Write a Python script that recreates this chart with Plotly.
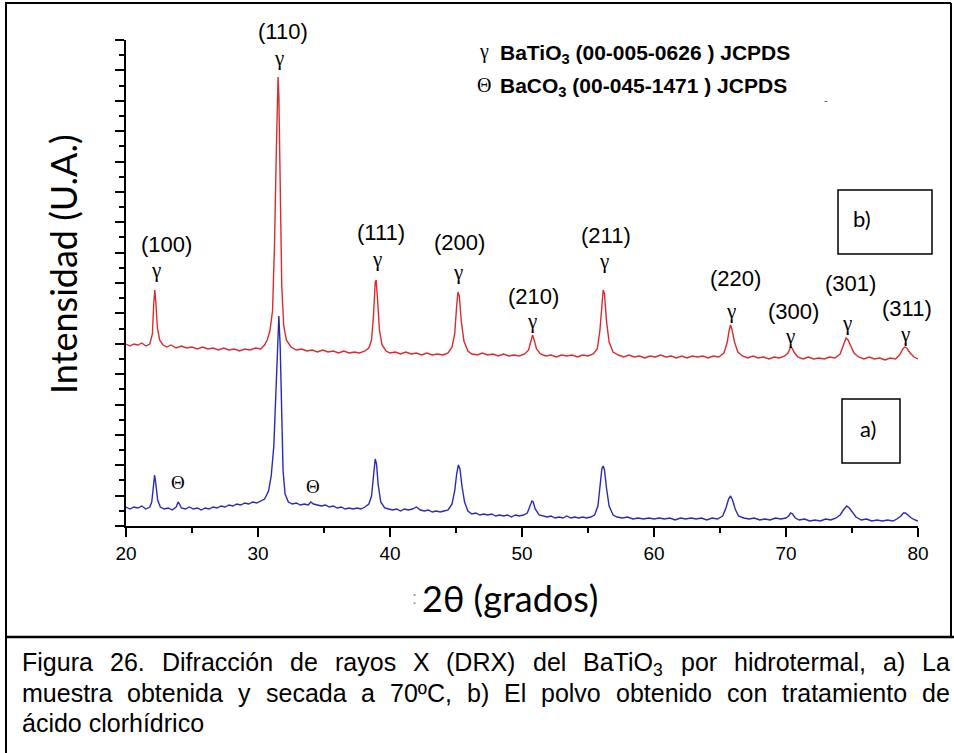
import plotly.graph_objects as go

# ---------------- data ----------------
# b) sample treated with HCl (red), intensity in arbitrary units
red_2theta = [20.0, 20.3, 20.6, 20.9, 21.2, 21.5, 21.8, 22.0, 22.1, 22.18, 22.26, 22.38, 22.55, 22.8,
              23.1, 23.4, 23.8, 24.2, 24.6, 25.0, 25.4, 25.8, 26.2, 26.6, 27.0, 27.4, 27.8, 28.2, 28.6,
              29.0, 29.4, 29.8, 30.2, 30.5, 30.7, 30.9, 31.1, 31.25, 31.38, 31.47, 31.52, 31.58, 31.68,
              31.8, 31.95, 32.15, 32.5, 32.9, 33.3, 33.7, 34.1, 34.5, 34.9, 35.3, 35.7, 36.1, 36.5, 36.9,
              37.3, 37.7, 38.1, 38.4, 38.6, 38.75, 38.88, 38.95, 39.05, 39.2, 39.4, 39.7, 40.0, 40.4,
              40.8, 41.2, 41.6, 42.0, 42.4, 42.8, 43.2, 43.6, 44.0, 44.4, 44.7, 44.9, 45.05, 45.15, 45.25,
              45.4, 45.6, 45.9, 46.2, 46.6, 47.0, 47.4, 47.8, 48.2, 48.6, 49.0, 49.4, 49.8, 50.2, 50.5,
              50.7, 50.8, 50.9, 51.1, 51.4, 51.8, 52.2, 52.6, 53.0, 53.4, 53.8, 54.2, 54.6, 55.0, 55.4,
              55.7, 55.9, 56.05, 56.15, 56.25, 56.4, 56.6, 56.9, 57.3, 57.7, 58.1, 58.5, 58.9, 59.3, 59.7,
              60.1, 60.5, 60.9, 61.3, 61.7, 62.1, 62.5, 62.9, 63.3, 63.7, 64.1, 64.5, 64.9, 65.3, 65.55,
              65.7, 65.8, 65.9, 66.1, 66.35, 66.7, 67.1, 67.5, 67.9, 68.3, 68.7, 69.1, 69.5, 69.9, 70.15,
              70.35, 70.45, 70.65, 70.9, 71.3, 71.7, 72.1, 72.5, 72.9, 73.3, 73.7, 74.1, 74.35, 74.55,
              74.7, 74.9, 75.15, 75.5, 75.9, 76.3, 76.7, 77.1, 77.5, 77.9, 78.3, 78.6, 78.85, 79.0, 79.15,
              79.4, 79.7, 80.0]
red_intensity = [182, 180, 182, 181, 183, 180, 182, 192, 222, 236, 224, 198, 186, 181,
                 179, 181, 178, 180, 178, 179, 177, 179, 177, 178, 176, 178, 176, 177, 175,
                 177, 176, 178, 177, 181, 186, 195, 215, 280, 370, 440, 449, 430, 330,
                 240, 200, 186, 179, 176, 177, 175, 176, 174, 176, 174, 175, 173, 175, 173,
                 174, 173, 175, 178, 186, 210, 244, 246, 228, 196, 181, 175, 173, 174,
                 172, 174, 172, 173, 171, 173, 171, 172, 171, 173, 179, 192, 220, 234, 230,
                 205, 185, 175, 172, 171, 173, 171, 172, 170, 172, 170, 171, 170, 172, 176,
                 186, 191, 187, 177, 172, 170, 171, 169, 171, 170, 171, 169, 171, 170, 172,
                 177, 195, 225, 236, 232, 205, 184, 174, 171, 169, 171, 169, 170, 168, 170,
                 169, 171, 169, 170, 168, 170, 168, 170, 169, 170, 168, 170, 169, 173, 184,
                 196, 201, 197, 184, 174, 170, 168, 170, 168, 169, 167, 169, 168, 170, 173,
                 179, 178, 173, 169, 167, 169, 167, 168, 167, 169, 168, 172, 180, 188,
                 186, 180, 173, 169, 167, 169, 167, 168, 166, 168, 167, 171, 177, 179, 178,
                 173, 169, 167]

# a) as-obtained sample dried at 70 C (blue)
blue_2theta = [20.0, 20.3, 20.6, 20.9, 21.2, 21.5, 21.8, 21.95, 22.08, 22.17, 22.26, 22.4, 22.6, 22.9,
               23.2, 23.5, 23.8, 23.95, 24.05, 24.2, 24.5, 24.8, 25.1, 25.4, 25.7, 26.0, 26.3, 26.6,
               26.9, 27.2, 27.5, 27.8, 28.1, 28.4, 28.7, 29.0, 29.3, 29.6, 29.9, 30.2, 30.5, 30.8, 31.0,
               31.2, 31.35, 31.48, 31.58, 31.68, 31.78, 31.9, 32.05, 32.3, 32.6, 32.9, 33.2, 33.5, 33.8,
               34.0, 34.2, 34.5, 34.8, 35.1, 35.4, 35.7, 36.0, 36.3, 36.6, 36.9, 37.2, 37.5, 37.8, 38.1,
               38.4, 38.6, 38.75, 38.88, 38.98, 39.1, 39.3, 39.6, 39.9, 40.2, 40.5, 40.8, 41.1, 41.4,
               41.7, 42.0, 42.3, 42.6, 42.9, 43.2, 43.5, 43.8, 44.1, 44.4, 44.7, 44.9, 45.05, 45.18,
               45.3, 45.45, 45.65, 45.9, 46.2, 46.5, 46.8, 47.1, 47.4, 47.7, 48.0, 48.3, 48.6, 48.9,
               49.2, 49.5, 49.8, 50.1, 50.4, 50.6, 50.75, 50.85, 51.0, 51.3, 51.6, 51.9, 52.2, 52.5,
               52.8, 53.1, 53.4, 53.7, 54.0, 54.3, 54.6, 54.9, 55.2, 55.5, 55.75, 55.9, 56.05, 56.15,
               56.25, 56.4, 56.6, 56.9, 57.2, 57.6, 58.0, 58.4, 58.8, 59.2, 59.6, 60.0, 60.4, 60.8,
               61.2, 61.6, 62.0, 62.4, 62.8, 63.2, 63.6, 64.0, 64.4, 64.8, 65.2, 65.45, 65.65, 65.8,
               65.95, 66.15, 66.4, 66.8, 67.2, 67.6, 68.0, 68.4, 68.8, 69.2, 69.6, 70.0, 70.2, 70.35,
               70.5, 70.7, 71.0, 71.4, 71.8, 72.2, 72.6, 73.0, 73.4, 73.8, 74.1, 74.35, 74.6, 74.8,
               75.0, 75.3, 75.7, 76.1, 76.5, 76.9, 77.3, 77.7, 78.1, 78.4, 78.7, 78.9, 79.05, 79.25,
               79.5, 79.8, 80.0]
blue_intensity = [19, 17, 19, 18, 20, 17, 19, 24, 40, 51, 42, 26, 19, 17,
                  18, 16, 19, 24, 22, 18, 17, 19, 17, 18, 16, 18, 17, 19,
                  18, 20, 19, 21, 20, 22, 21, 23, 22, 24, 23, 25, 27, 35, 50,
                  80, 130, 185, 210, 180, 110, 55, 32, 24, 22, 23, 21, 22, 21,
                  24, 22, 21, 20, 21, 19, 20, 18, 19, 17, 18, 17, 18, 17, 19,
                  22, 30, 50, 67, 62, 42, 24, 18, 17, 16, 17, 15, 17, 16,
                  17, 19, 16, 15, 16, 14, 15, 14, 15, 16, 22, 35, 52, 61,
                  57, 40, 24, 15, 12, 13, 11, 12, 11, 12, 10, 11, 10, 11,
                  9, 11, 10, 11, 13, 19, 25, 24, 17, 11, 10, 9, 10, 8,
                  9, 8, 10, 8, 9, 8, 9, 8, 9, 11, 20, 38, 57, 60,
                  56, 38, 20, 11, 9, 8, 9, 7, 8, 7, 8, 7, 8, 7,
                  8, 6, 8, 7, 8, 7, 8, 6, 8, 7, 10, 18, 27, 30,
                  26, 17, 10, 8, 7, 8, 6, 7, 6, 8, 7, 8, 10, 13,
                  12, 8, 6, 7, 5, 6, 5, 7, 6, 8, 11, 16, 20, 18,
                  14, 9, 6, 7, 5, 6, 5, 6, 5, 7, 10, 13, 13, 11,
                  8, 6, 5]

hkl_labels = ["(100)", "(110)", "(111)", "(200)", "(210)", "(211)", "(220)", "(300)", "(301)", "(311)"]
x_ticks = [20, 30, 40, 50, 60, 70, 80]
legend_lines = ["BaTiO<sub>3</sub> (00-005-0626 ) JCPDS", "BaCO<sub>3</sub> (00-045-1471 ) JCPDS"]
legend_symbols = ["\u03b3", "\u0398"]
caption_lines = [
    "Figura 26. Difracción de rayos X (DRX) del BaTiO<sub>3</sub> por hidrotermal, a) La",
    "muestra obtenida y secada a 70ºC, b) El polvo obtenido con tratamiento de",
    "ácido clorhídrico",
]

# ---------------- layout helpers ----------------
W, H = 954, 753
def px(x):
    return x / W
def py(y):
    return 1 - y / H

SANS = "Liberation Sans, Arial, sans-serif"
SERIF = "Liberation Serif, Times New Roman, serif"
CAL = "Lato, Carlito, Calibri, sans-serif"

annotations = []
def ann(text, x, y, size, family=SANS, color="black", xanchor="center", yanchor="middle", angle=0):
    annotations.append(dict(text=text, x=px(x), y=py(y), xref="paper", yref="paper",
                            xanchor=xanchor, yanchor=yanchor, showarrow=False, textangle=angle,
                            font=dict(size=size, family=family, color=color)))

fig = go.Figure()
fig.add_trace(go.Scatter(x=red_2theta, y=red_intensity, mode="lines",
                         line=dict(color="#dc2b30", width=1.4), hoverinfo="skip"))
fig.add_trace(go.Scatter(x=blue_2theta, y=blue_intensity, mode="lines",
                         line=dict(color="#2a2ab8", width=1.4), hoverinfo="skip"))

# peak labels (positions in pixels of the picture)
label_pos = [(166, 245), (283, 32), (381, 233), (459, 243), (533, 296), (606, 236),
             (735, 278), (793, 311), (850, 283), (907, 308)]
gamma_pos = [(156, 270), (279, 58), (377, 259), (458, 272), (532, 321), (604, 261),
             (731, 311), (790, 336), (847, 323), (905, 334)]
for t, (lx, ly), (gx, gy) in zip(hkl_labels, label_pos, gamma_pos):
    ann(t, lx, ly, 22)
    ann("\u03b3", gx, gy, 21, SERIF)
# BaCO3 marks
for (tx, ty) in [(178, 482), (313, 486)]:
    ann("\u0398", tx, ty, 19, SERIF)

# legend
for i, (sym, line) in enumerate(zip(legend_symbols, legend_lines)):
    yy = 52 + i * 33
    ann(sym, 484, yy, 20, SERIF)
    ann("<b>" + line + "</b>", 498, yy + 2, 21, SANS, xanchor="left")
ann("-", 826, 100, 11, SANS, color="#555")

# axis titles
ann("Intensidad (U.A.)", 63, 264, 36, CAL, angle=-90)
ann("2\u03b8 (grados)", 510, 598, 36, CAL)
ann(":", 414, 598, 18, SANS, color="#999")

# sample boxes
ann("b)", 862, 219, 22, CAL)
ann("a)", 868, 428, 22, CAL)

# caption: justified lines using Arial metrics
AW = {' ': 278, '(': 333, ')': 333, ',': 278, '-': 333, '.': 278, 'º': 365}
for c in '0123456789':
    AW[c] = 556
AW.update({'A': 667, 'B': 667, 'C': 722, 'D': 722, 'E': 667, 'F': 611, 'R': 722, 'T': 611, 'X': 667, 'L': 556, 'O': 778})
AW.update({'a': 556, 'b': 556, 'c': 500, 'd': 556, 'e': 556, 'f': 278, 'g': 556, 'h': 556, 'i': 222,
           'l': 222, 'm': 833, 'n': 556, 'o': 556, 'p': 556, 'r': 333, 's': 500, 't': 278, 'u': 556,
           'v': 500, 'y': 500, 'á': 556, 'ó': 556, 'í': 278})
CAP_SIZE = 25
def word_width(w):
    w2 = w.replace("<sub>3</sub>", "")
    extra = 556 * 0.7 if "<sub>" in w else 0
    return (sum(AW.get(c, 556) for c in w2) + extra) * CAP_SIZE / 1000.0

left_x, right_x = 22, 950
cap_top = [646, 677, 707]
for li, line in enumerate(caption_lines):
    if li == len(caption_lines) - 1:
        ann(line, left_x - 2, cap_top[li], CAP_SIZE, SANS, xanchor="left", yanchor="top")
        continue
    words = line.split(" ")
    widths = [word_width(w) for w in words]
    gap = (right_x - left_x - sum(widths)) / (len(words) - 1)
    xx = left_x
    for w, wd in zip(words, widths):
        ann(w, xx - 2, cap_top[li], CAP_SIZE, SANS, xanchor="left", yanchor="top")
        xx += wd + gap

# frame and boxes
shapes = []
def seg(x0, y0, x1, y1, w=2):
    shapes.append(dict(type="line", xref="paper", yref="paper", x0=px(x0), y0=py(y0),
                       x1=px(x1), y1=py(y1), line=dict(color="black", width=w)))
def box(x0, y0, x1, y1, w=1.5):
    shapes.append(dict(type="rect", xref="paper", yref="paper", x0=px(x0), y0=py(y0),
                       x1=px(x1), y1=py(y1), line=dict(color="black", width=w)))
seg(5, 3, 951, 3)
seg(6, 3, 6, 753)
seg(951, 3, 951, 637)
seg(5, 637, 954, 637, 2.5)
box(838, 190, 932, 254)
box(842, 399, 900, 463)

fig.update_layout(
    width=W, height=H, margin=dict(l=0, r=0, t=0, b=0, autoexpand=False),
    paper_bgcolor="white", plot_bgcolor="white", showlegend=False,
    annotations=annotations, shapes=shapes,
    xaxis=dict(domain=[126 / W, 918 / W], range=[20, 80], showline=True, linecolor="black",
               linewidth=2, ticks="outside", ticklen=9, tickwidth=2, tickcolor="black",
               tickvals=x_ticks, ticktext=[str(v) for v in x_ticks],
               tickfont=dict(family=SANS, size=19, color="black"), showgrid=False, zeroline=False,
               minor=dict(dtick=5, tick0=20, ticks="outside", ticklen=5, tickwidth=2,
                          tickcolor="black", showgrid=False)),
    yaxis=dict(domain=[(H - 526) / H, (H - 40) / H], range=[0, 486], showline=True,
               linecolor="black", linewidth=2, ticks="outside", ticklen=9, tickwidth=2,
               tickcolor="black", tick0=0, dtick=30.375, showticklabels=False, showgrid=False,
               zeroline=False,
               minor=dict(dtick=15.1875, tick0=0, ticks="outside", ticklen=5, tickwidth=2,
                          tickcolor="black", showgrid=False)),
)

fig.write_html("out.html")
